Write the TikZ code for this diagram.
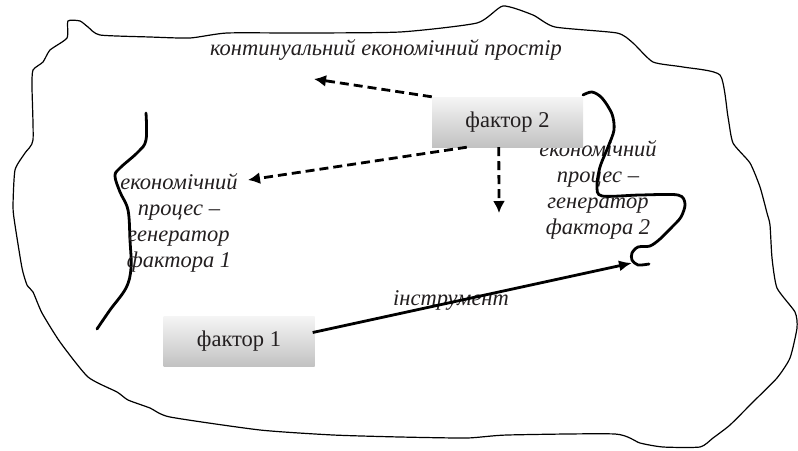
\documentclass[tikz,border=0pt]{standalone}
\usepackage{fontspec}
\setmainfont{Liberation Serif}
\usetikzlibrary{arrows.meta,shadings}
\definecolor{txt}{HTML}{231F20}
\begin{document}
\begin{tikzpicture}[x=1pt,y=-1pt,
  factorbox/.style={minimum width=151pt,minimum height=50pt,inner sep=0pt,
     top color=black!4,bottom color=black!24,draw=none,font=\fontsize{22.5}{26}\selectfont,text=txt},
  lbl/.style={font=\fontsize{22.5}{26}\selectfont\itshape,text=txt,align=center,inner sep=0pt},
  dasharrow/.style={line width=2.8pt,dash pattern=on 9pt off 5pt,-{Latex[length=12pt,width=12pt]}},
  solidarrow/.style={line width=2.8pt,-{Latex[length=13pt,width=11pt]}},
  thickcurve/.style={line width=2.8pt,line cap=round},
  outline/.style={line width=1.2pt}]
\useasboundingbox (0,0) rectangle (798,450);
% outline of the economic space
\draw[outline] plot[smooth cycle,tension=0.35] coordinates {
 (68,21) (80,21) (88,27) (100,35) (150,37) (190,38) (227,33) (300,33) (400,32)
 (477,23) (503,6) (533,15) (555,27) (617,33) (633,43) (653,62) (683,67) (720,75)
 (728,117) (733,143) (750,163) (760,187) (767,213) (770,225) (772,258) (777,288)
 (795,312) (797,328) (790,358) (777,378) (753,402) (730,425) (713,438) (700,447)
 (663,447) (640,443) (615,434) (507,435) (467,438) (400,437) (333,435) (260,430)
 (170,417) (150,408) (128,400) (117,392) (88,377) (60,342) (42,313) (33,292)
 (27,285) (22,268) (15,225) (13,207) (15,170) (25,153) (33,140) (32,87) (33,70)
 (43,62) (50,50) (67,38)};
% curves (economic processes)
\draw[thickcurve] plot[smooth,tension=0.6] coordinates {
 (146,113) (146,140) (138,152) (120,168) (115,176) (120,192) (128,210) (130,240)
 (131,268) (126,288) (110,310) (97,329)};
% texts
\node[lbl] (cont) at (386,50) {континуальний економічний простір};
\node[lbl] (proc1) at (179,223) {економічний\\процес –\\генератор\\фактора 1};
\node[lbl] (proc2) at (598,190) {економічний\\процес –\\генератор\\фактора 2};
\node[lbl] (instr) at (451,300) {інструмент};
% factor boxes
\node[factorbox] (f2) at (507.5,122) {\raisebox{5pt}{фактор 2}};
\node[factorbox] (f1) at (239,341.5) {\raisebox{5pt}{фактор 1}};
\draw[thickcurve] plot[smooth,tension=0.5] coordinates {
 (583,95) (592,92) (602,98) (612,114) (614,130) (608,147) (600,167) (597,186)
 (602,196) (640,195) (678,195) (685,204) (681,217) (672,227) (660,239) (650,246)
 (638,247) (632,253) (632,260) (638,265) (649,264)};
% connectors
\coordinate (t1) at (314,79);
\coordinate (t2) at (248,180);
\coordinate (t3) at (499,213);
\coordinate (t4) at (632,263);
\draw[dasharrow] (f2.north west) -- (t1);
\draw[dasharrow] ([xshift=35pt]f2.south west) -- (t2);
\draw[dasharrow] ([xshift=67pt]f2.south west) -- (t3);
\draw[solidarrow] ([yshift=9pt,xshift=-2pt]f1.east) -- (t4);
\end{tikzpicture}
\end{document}
